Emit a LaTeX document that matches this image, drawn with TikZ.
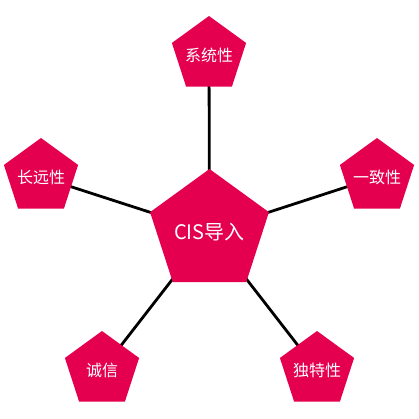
\documentclass[tikz,border=0pt]{standalone}
\usepackage{fontspec}
\usepackage{xcolor}
\usepackage{tikz}
\usetikzlibrary{shapes.geometric, backgrounds}
\newfontfamily\cjk{Noto Sans CJK SC}
\definecolor{pentred}{HTML}{E4004E}
% text that does not widen the pentagon
\newcommand{\ptext}[1]{\makebox[0pt]{\raisebox{-0.38em}[0pt][0pt]{#1}}}

\begin{document}
\begin{tikzpicture}[x=1pt, y=-1pt,
    pent/.style={regular polygon, regular polygon sides=5, draw=none, fill=pentred, inner sep=0pt, minimum size=78pt, text=white, font=\cjk\fontsize{16}{16}\selectfont},
    core/.style={pent, minimum size=125pt, font=\cjk\fontsize{20}{20}\selectfont},
    link/.style={line width=2.8pt, black}
]
\useasboundingbox (0,0) rectangle (419,419);

\node[core] (cis) at (209.5,231.5) {\ptext{CIS导入}};
\node[pent] (system) at (209,55) {\ptext{系统性}};
\node[pent] (longterm) at (41,177) {\ptext{长远性}};
\node[pent] (consist) at (377,177) {\ptext{一致性}};
\node[pent] (honest) at (102,370) {\ptext{诚信}};
\node[pent] (unique) at (317,370) {\ptext{独特性}};

\begin{scope}[on background layer]
\draw[link] (cis.center) -- (system.center);
\draw[link] (cis.center) -- (longterm.center);
\draw[link] (cis.center) -- (consist.center);
\draw[link] (cis.center) -- (honest.center);
\draw[link] (cis.center) -- (unique.center);
\end{scope}

\end{tikzpicture}
\end{document}
